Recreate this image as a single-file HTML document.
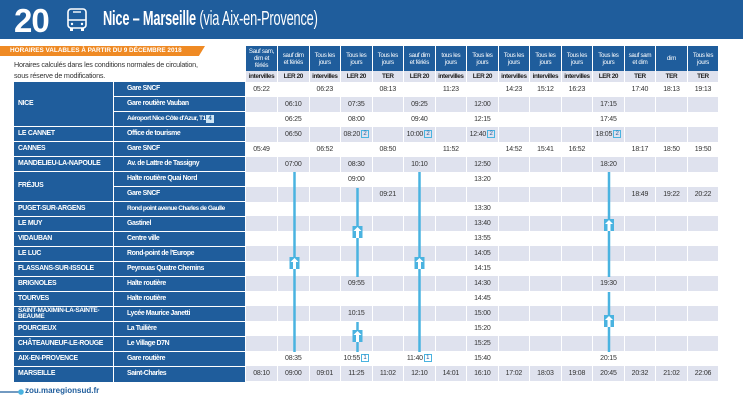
<!DOCTYPE html>
<html><head><meta charset="utf-8"><style>
*{margin:0;padding:0;box-sizing:border-box}
body{width:743px;height:406px;background:#fff;position:relative;overflow:hidden;font-family:"Liberation Sans",sans-serif;}
.hdr{position:absolute;left:0;top:0;width:743px;height:39px;background:#1f5d9c;}
.num{position:absolute;left:14px;top:2px;color:#fff;font-weight:bold;font-size:33px;letter-spacing:-1px}
.title{position:absolute;left:103px;top:8px;color:#fff;font-size:20px;letter-spacing:-0.3px;transform:scaleX(0.64);transform-origin:0 0;white-space:nowrap}
.title b{font-weight:bold}
.ban{position:absolute;left:0;top:46px;width:205px;height:10px;background:#ef8a24;clip-path:polygon(0 0,100% 0,97% 100%,0 100%);color:#fff;font-weight:bold;font-size:6.4px;line-height:10px;padding-left:10px;white-space:nowrap}
.desc{position:absolute;left:14px;top:60px;font-size:7.2px;color:#333;line-height:10.5px;letter-spacing:-0.2px}
table{position:absolute;left:246px;top:46px;width:473px;border-collapse:collapse;table-layout:fixed}
td{text-align:center;font-size:7px;color:#333;height:14.95px;padding:0;border-right:1px solid #fff;white-space:nowrap;overflow:hidden;letter-spacing:-0.2px}
tr.h td{background:#1f5d9c;color:#fff;height:25px;font-size:6.2px;line-height:7px;white-space:normal;letter-spacing:-0.3px}
tr.t td{background:#dfe2ee;font-weight:bold;height:11px;font-size:6.4px;color:#222;letter-spacing:-0.4px}
tr.s td{background:#dfe2ee}
.bx{display:inline-block;border:1px solid #4ab3e0;color:#1f5d9c;font-size:6px;line-height:6px;width:8px;height:8px;vertical-align:middle;margin-left:1px;letter-spacing:0}
.lp{position:absolute;left:14px;top:82px;width:231px;height:300px;background:#1f5d9c}
.c{position:absolute;left:14px;width:99px;color:#fff;font-weight:bold;font-size:6.9px;padding-left:4px;display:flex;align-items:center;border-bottom:1px solid #fff;line-height:6.5px;white-space:nowrap;letter-spacing:-0.3px}
.st{position:absolute;left:113px;width:132px;color:#fff;font-weight:bold;font-size:6.9px;padding-left:13px;height:15px;line-height:14px;border-bottom:1px solid #fff;border-left:1px solid #fff;white-space:nowrap;letter-spacing:-0.4px}
.foot{position:absolute;left:25px;top:386px;color:#1f5d9c;font-weight:bold;font-size:8px}
</style></head><body>
<div class="hdr"></div>
<div class="num">20</div>
<svg style="position:absolute;left:66px;top:7px" width="22" height="26" viewBox="0 0 22 26"><rect x="2" y="2" width="18" height="19" rx="3" fill="none" stroke="#fff" stroke-width="1.6"/><line x1="2" y1="13" x2="20" y2="13" stroke="#fff" stroke-width="1.4"/><line x1="7" y1="5" x2="15" y2="5" stroke="#fff" stroke-width="1.4"/><rect x="4" y="21" width="3" height="3" fill="#fff"/><rect x="15" y="21" width="3" height="3" fill="#fff"/><circle cx="6" cy="17" r="1.2" fill="#fff"/><circle cx="16" cy="17" r="1.2" fill="#fff"/></svg>
<div class="title"><b>Nice – Marseille</b> (via Aix-en-Provence)</div>
<div class="ban">HORAIRES VALABLES À PARTIR DU 9 DÉCEMBRE 2018</div>
<div class="desc">Horaires calculés dans les conditions normales de circulation,<br>sous réserve de modifications.</div>

<table>
<colgroup><col span="15" style="width:31.53px"></colgroup>
<tr class="h"><td>Sauf sam,<br>dim et<br>fériés</td><td>sauf dim<br>et fériés</td><td>Tous les<br>jours</td><td>Tous les<br>jours</td><td>Tous les<br>jours</td><td>sauf dim<br>et fériés</td><td>tous les<br>jours</td><td>Tous les<br>jours</td><td>Tous les<br>jours</td><td>Tous les<br>jours</td><td>Tous les<br>jours</td><td>Tous les<br>jours</td><td>sauf sam<br>et dim</td><td>dim</td><td>Tous les<br>jours</td></tr>
<tr class="t"><td>intervilles</td><td>LER 20</td><td>intervilles</td><td>LER 20</td><td>TER</td><td>LER 20</td><td>intervilles</td><td>LER 20</td><td>intervilles</td><td>intervilles</td><td>intervilles</td><td>LER 20</td><td>TER</td><td>TER</td><td>TER</td></tr>
<tr><td>05:22</td><td></td><td>06:23</td><td></td><td>08:13</td><td></td><td>11:23</td><td></td><td>14:23</td><td>15:12</td><td>16:23</td><td></td><td>17:40</td><td>18:13</td><td>19:13</td></tr>
<tr class="s"><td></td><td>06:10</td><td></td><td>07:35</td><td></td><td>09:25</td><td></td><td>12:00</td><td></td><td></td><td></td><td>17:15</td><td></td><td></td><td></td></tr>
<tr><td></td><td>06:25</td><td></td><td>08:00</td><td></td><td>09:40</td><td></td><td>12:15</td><td></td><td></td><td></td><td>17:45</td><td></td><td></td><td></td></tr>
<tr class="s"><td></td><td>06:50</td><td></td><td>08:20<span class="bx">2</span></td><td></td><td>10:00<span class="bx">2</span></td><td></td><td>12:40<span class="bx">2</span></td><td></td><td></td><td></td><td>18:05<span class="bx">2</span></td><td></td><td></td><td></td></tr>
<tr><td>05:49</td><td></td><td>06:52</td><td></td><td>08:50</td><td></td><td>11:52</td><td></td><td>14:52</td><td>15:41</td><td>16:52</td><td></td><td>18:17</td><td>18:50</td><td>19:50</td></tr>
<tr class="s"><td></td><td>07:00</td><td></td><td>08:30</td><td></td><td>10:10</td><td></td><td>12:50</td><td></td><td></td><td></td><td>18:20</td><td></td><td></td><td></td></tr>
<tr><td></td><td></td><td></td><td>09:00</td><td></td><td></td><td></td><td>13:20</td><td></td><td></td><td></td><td></td><td></td><td></td><td></td></tr>
<tr class="s"><td></td><td></td><td></td><td></td><td>09:21</td><td></td><td></td><td></td><td></td><td></td><td></td><td></td><td>18:49</td><td>19:22</td><td>20:22</td></tr>
<tr><td></td><td></td><td></td><td></td><td></td><td></td><td></td><td>13:30</td><td></td><td></td><td></td><td></td><td></td><td></td><td></td></tr>
<tr class="s"><td></td><td></td><td></td><td></td><td></td><td></td><td></td><td>13:40</td><td></td><td></td><td></td><td></td><td></td><td></td><td></td></tr>
<tr><td></td><td></td><td></td><td></td><td></td><td></td><td></td><td>13:55</td><td></td><td></td><td></td><td></td><td></td><td></td><td></td></tr>
<tr class="s"><td></td><td></td><td></td><td></td><td></td><td></td><td></td><td>14:05</td><td></td><td></td><td></td><td></td><td></td><td></td><td></td></tr>
<tr><td></td><td></td><td></td><td></td><td></td><td></td><td></td><td>14:15</td><td></td><td></td><td></td><td></td><td></td><td></td><td></td></tr>
<tr class="s"><td></td><td></td><td></td><td>09:55</td><td></td><td></td><td></td><td>14:30</td><td></td><td></td><td></td><td>19:30</td><td></td><td></td><td></td></tr>
<tr><td></td><td></td><td></td><td></td><td></td><td></td><td></td><td>14:45</td><td></td><td></td><td></td><td></td><td></td><td></td><td></td></tr>
<tr class="s"><td></td><td></td><td></td><td>10:15</td><td></td><td></td><td></td><td>15:00</td><td></td><td></td><td></td><td></td><td></td><td></td><td></td></tr>
<tr><td></td><td></td><td></td><td></td><td></td><td></td><td></td><td>15:20</td><td></td><td></td><td></td><td></td><td></td><td></td><td></td></tr>
<tr class="s"><td></td><td></td><td></td><td></td><td></td><td></td><td></td><td>15:25</td><td></td><td></td><td></td><td></td><td></td><td></td><td></td></tr>
<tr><td></td><td>08:35</td><td></td><td>10:55<span class="bx">1</span></td><td></td><td>11:40<span class="bx">1</span></td><td></td><td>15:40</td><td></td><td></td><td></td><td>20:15</td><td></td><td></td><td></td></tr>
<tr class="s"><td>08:10</td><td>09:00</td><td>09:01</td><td>11:25</td><td>11:02</td><td>12:10</td><td>14:01</td><td>16:10</td><td>17:02</td><td>18:03</td><td>19:08</td><td>20:45</td><td>20:32</td><td>21:02</td><td>22:06</td></tr>
</table>

<svg style="position:absolute;left:0;top:0" width="743" height="406">
<defs><g id="ar"><rect x="-5" y="0" width="10" height="12" fill="#4ab3e0"/><path d="M0 1 L4 5 L1.5 5 L1.5 12 L-1.5 12 L-1.5 5 L-4 5Z" fill="#fff"/></g></defs>
<g stroke="#4ab3e0" stroke-width="2.5">
<line x1="294.5" y1="172" x2="294.5" y2="352"/>
<line x1="357.5" y1="188" x2="357.5" y2="277"/>
<line x1="357.5" y1="322" x2="357.5" y2="352"/>
<line x1="419.5" y1="172" x2="419.5" y2="352"/>
<line x1="609" y1="172" x2="609" y2="277"/>
<line x1="609" y1="292" x2="609" y2="352"/>
</g>
<use href="#ar" x="294.5" y="257"/>
<use href="#ar" x="357.5" y="226"/>
<use href="#ar" x="357.5" y="330"/>
<use href="#ar" x="419.5" y="257"/>
<use href="#ar" x="609" y="219"/>
<use href="#ar" x="609" y="315"/>
<line x1="0" y1="392" x2="20" y2="392" stroke="#1f5d9c" stroke-width="1.2"/>
<circle cx="21" cy="392" r="2.8" fill="#4ab3e0"/>
</svg>

<div class="lp"></div>
<div class="c" style="top:82px;height:45px">NICE</div>
<div class="c" style="top:127px;height:15px">LE CANNET</div>
<div class="c" style="top:142px;height:15px">CANNES</div>
<div class="c" style="top:157px;height:15px">MANDELIEU-LA-NAPOULE</div>
<div class="c" style="top:172px;height:30px">FRÉJUS</div>
<div class="c" style="top:202px;height:15px">PUGET-SUR-ARGENS</div>
<div class="c" style="top:217px;height:15px">LE MUY</div>
<div class="c" style="top:232px;height:15px">VIDAUBAN</div>
<div class="c" style="top:247px;height:15px">LE LUC</div>
<div class="c" style="top:262px;height:15px">FLASSANS-SUR-ISSOLE</div>
<div class="c" style="top:277px;height:15px">BRIGNOLES</div>
<div class="c" style="top:292px;height:15px">TOURVES</div>
<div class="c" style="top:307px;height:15px;font-size:6.5px;line-height:6.3px">SAINT-MAXIMIN-LA-SAINTE-<br>BEAUME</div>
<div class="c" style="top:322px;height:15px">POURCIEUX</div>
<div class="c" style="top:337px;height:15px">CHÂTEAUNEUF-LE-ROUGE</div>
<div class="c" style="top:352px;height:15px">AIX-EN-PROVENCE</div>
<div class="c" style="top:367px;height:15px;border-bottom:none">MARSEILLE</div>

<div class="st" style="top:82px">Gare SNCF</div>
<div class="st" style="top:97px">Gare routière Vauban</div>
<div class="st" style="top:112px;letter-spacing:-0.5px;font-size:6.6px">Aéroport Nice Côte d'Azur, T1<span style="position:absolute;left:92px;top:3px;width:8px;height:8px;background:#cfe6f5;color:#1f5d9c;font-size:6px;line-height:8px;text-align:center;letter-spacing:0">4</span></div>
<div class="st" style="top:127px">Office de tourisme</div>
<div class="st" style="top:142px">Gare SNCF</div>
<div class="st" style="top:157px">Av. de Lattre de Tassigny</div>
<div class="st" style="top:172px">Halte routière Quai Nord</div>
<div class="st" style="top:187px">Gare SNCF</div>
<div class="st" style="top:202px;font-size:6.5px;letter-spacing:-0.5px">Rond point avenue Charles de Gaulle</div>
<div class="st" style="top:217px">Gastinel</div>
<div class="st" style="top:232px">Centre ville</div>
<div class="st" style="top:247px">Rond-point de l'Europe</div>
<div class="st" style="top:262px">Peyrouas Quatre Chemins</div>
<div class="st" style="top:277px">Halte routière</div>
<div class="st" style="top:292px">Halte routière</div>
<div class="st" style="top:307px">Lycée Maurice Janetti</div>
<div class="st" style="top:322px">La Tuilière</div>
<div class="st" style="top:337px">Le Village D7N</div>
<div class="st" style="top:352px">Gare routière</div>
<div class="st" style="top:367px;border-bottom:none">Saint-Charles</div>

<div class="foot">zou.maregionsud.fr</div>
</body></html>
